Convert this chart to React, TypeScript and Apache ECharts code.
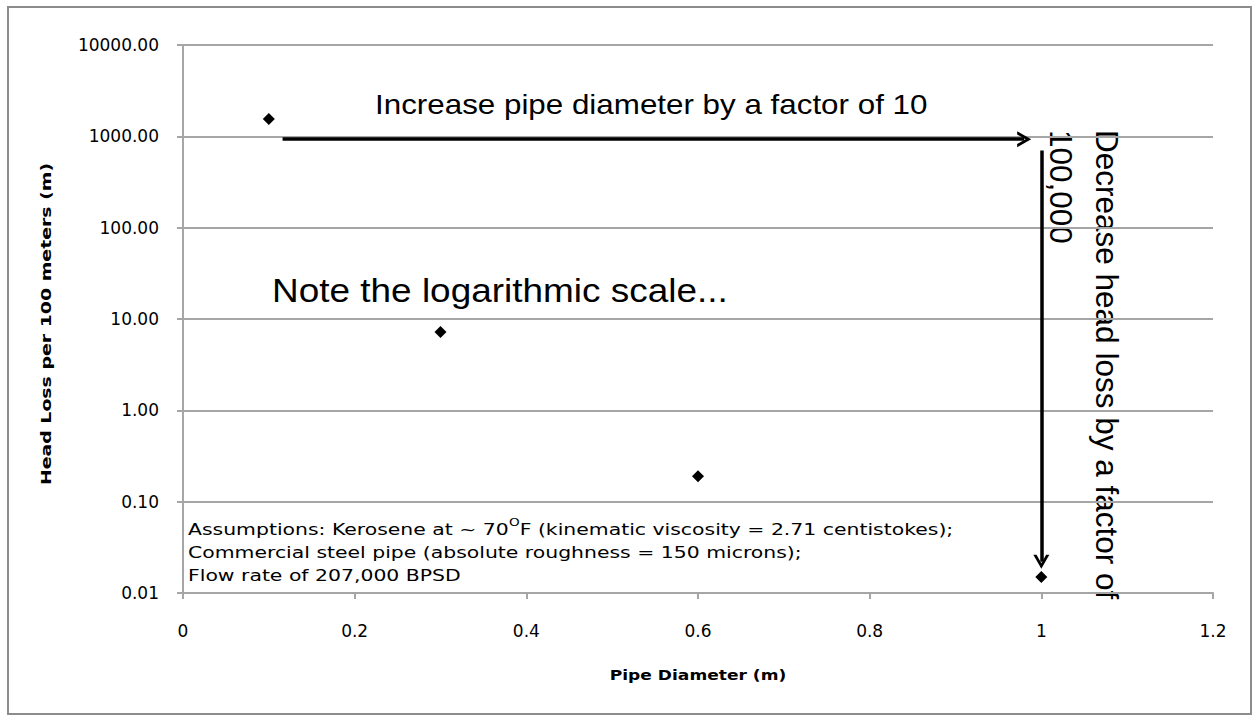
import React, { useEffect, useRef } from "react";
import * as echarts from "echarts";

// ---- data ----
const pipeDiameters = [0.1, 0.3, 0.6, 1.0];
const headLoss = [1550, 7.2, 0.19, 0.015];

const xAxisTitle = "Pipe Diameter (m)";
const yAxisTitle = "Head Loss per 100 meters (m)";
const increaseNote = "Increase pipe diameter by a factor of 10";
const logNote = "Note the logarithmic scale...";
const decreaseNoteLine1 = "Decrease head loss by a factor of";
const decreaseNoteLine2 = "100,000";
const assumptionLines = [
  "Assumptions: Kerosene at ~ 70",
  "O",
  "F (kinematic viscosity = 2.71 centistokes);",
  "Commercial steel pipe (absolute roughness = 150 microns);",
  "Flow rate of 207,000 BPSD",
];
// arrow annotations in data coordinates [x, y]
const horizontalArrow = [
  [0.116, 930],
  [0.98, 930],
];
const verticalArrow = [
  [1.0, 700],
  [1.0, 0.022],
];

const GRID_LEFT = 183;
const GRID_RIGHT = 40;
const GRID_TOP = 45;
const GRID_BOTTOM = 129;

export default function App() {
  const ref = useRef<HTMLDivElement>(null);
  useEffect(() => {
    if (!ref.current) return;
    const chart = echarts.init(ref.current, null, { renderer: "svg" });
    const gray = "#a6a6a6";
    const chevron = "path://M0,10 L5,0 L10,10 L8,10 L5,4 L2,10 Z";
    chart.setOption({
      animation: false,
      backgroundColor: "#fff",
      grid: {
        left: GRID_LEFT,
        right: GRID_RIGHT,
        top: GRID_TOP,
        bottom: GRID_BOTTOM,
        containLabel: false,
      },
      xAxis: {
        type: "value",
        min: 0,
        max: 1.2,
        interval: 0.2,
        axisLine: { show: true, lineStyle: { color: gray, width: 2 } },
        axisTick: { show: true, length: 6, lineStyle: { color: gray, width: 2 } },
        axisLabel: {
          fontFamily: "DejaVu Sans",
          fontSize: 17,
          color: "#000",
          margin: 29,
        },
        splitLine: { show: false },
      },
      yAxis: {
        type: "log",
        logBase: 10,
        min: 0.01,
        max: 10000,
        axisLine: { show: true, lineStyle: { color: gray, width: 2 } },
        axisTick: { show: true, length: 6, lineStyle: { color: gray, width: 2 } },
        axisLabel: {
          fontFamily: "DejaVu Sans",
          fontSize: 17,
          color: "#000",
          margin: 24,
          formatter: (v: number) => v.toFixed(2),
        },
        splitLine: { show: true, lineStyle: { color: gray, width: 2 } },
      },
      series: [
        {
          type: "scatter",
          data: pipeDiameters.map((x, i) => [x, headLoss[i]]),
          symbol: "diamond",
          symbolSize: 12,
          itemStyle: { color: "#000", opacity: 1 },
          markLine: {
            silent: true,
            symbol: ["none", chevron],
            symbolSize: [16, 14],
            label: { show: false },
            lineStyle: { color: "#000", width: 3.5, type: "solid" },
            emphasis: { disabled: true },
            data: [
              [{ coord: horizontalArrow[0] }, { coord: horizontalArrow[1] }],
              [{ coord: verticalArrow[0] }, { coord: verticalArrow[1] }],
            ],
          },
        },
      ],
      graphic: [
        {
          type: "rect",
          shape: { x: 8, y: 7, width: 1243, height: 707 },
          style: { fill: "none", stroke: "#8c8c8c", lineWidth: 2 },
          silent: true,
          z: -1,
        },
        {
          type: "text",
          x: 698,
          y: 676,
          scaleX: 1.22,
          style: {
            text: xAxisTitle,
            fontFamily: "DejaVu Sans",
            fontWeight: "bold",
            fontSize: 14,
            fill: "#000",
            verticalAlign: "middle",
            align: "center",
          },
        },
        {
          type: "text",
          x: 46,
          y: 324,
          rotation: Math.PI / 2,
          scaleX: 1.35,
          style: {
            text: yAxisTitle,
            fontFamily: "DejaVu Sans",
            fontWeight: "bold",
            fontSize: 14,
            fill: "#000",
            verticalAlign: "middle",
            align: "center",
          },
        },
        {
          type: "text",
          x: 375,
          y: 104,
          scaleX: 1.12,
          style: {
            text: increaseNote,
            fontFamily: "Liberation Sans",
            fontSize: 28,
            fill: "#000",
            verticalAlign: "middle",
            align: "left",
          },
        },
        {
          type: "text",
          x: 272,
          y: 290,
          scaleX: 1.12,
          style: {
            text: logNote,
            fontFamily: "Liberation Sans",
            fontSize: 33,
            fill: "#000",
            verticalAlign: "middle",
            align: "left",
          },
        },
        {
          type: "text",
          x: 1123,
          y: 130,
          rotation: -Math.PI / 2,
          style: {
            text: decreaseNoteLine1,
            fontFamily: "Liberation Sans",
            fontSize: 31.5,
            fill: "#000",
            verticalAlign: "top",
            align: "left",
          },
        },
        {
          type: "text",
          x: 1077,
          y: 130,
          rotation: -Math.PI / 2,
          style: {
            text: decreaseNoteLine2,
            fontFamily: "Liberation Sans",
            fontSize: 31.5,
            fill: "#000",
            verticalAlign: "top",
            align: "left",
          },
        },
        {
          type: "text",
          x: 188,
          y: 518,
          scaleX: 1.36,
          style: {
            text:
              "{n|" + assumptionLines[0] + "}{s|" + assumptionLines[1] + "}{n|" + assumptionLines[2] + "}\n" +
              "{n|" + assumptionLines[3] + "}\n{n|" + assumptionLines[4] + "}",
            fontFamily: "DejaVu Sans",
            fontSize: 15,
            fill: "#000",
            verticalAlign: "top",
            align: "left",
            rich: {
              n: { fontFamily: "DejaVu Sans", fontSize: 15, lineHeight: 23, fill: "#000" },
              s: { fontFamily: "DejaVu Sans", fontSize: 10, lineHeight: 23, fill: "#000", verticalAlign: "top", padding: [0, 0, 6, 0] },
            },
          },
        },
      ],
    });
    return () => chart.dispose();
  }, []);
  return (
    <div
      ref={ref}
      style={{ position: "fixed", left: 0, top: 0, width: 1253, height: 722 }}
    />
  );
}
